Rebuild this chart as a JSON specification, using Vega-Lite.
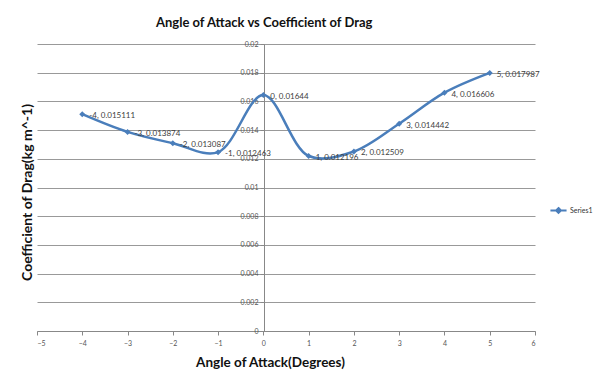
{
  "$schema": "https://vega.github.io/schema/vega-lite/v6.json",
  "width": 498,
  "height": 287,
  "autosize": "none",
  "padding": {"left": 37, "top": 44, "right": 68, "bottom": 50},
  "background": "white",
  "config": {"view": {"stroke": null}, "font": "Lato"},
  "title": {"text": "Angle of Attack vs Coefficient of Drag", "font": "Lato", "fontSize": 13, "fontWeight": "bold", "color": "#111", "anchor": "start", "dx": 136, "offset": 10},
  "data": {"values": [
    {"x": -4, "y": 0.015111, "label": "-4, 0.015111", "s": "Series1"},
    {"x": -3, "y": 0.013874, "label": "-3, 0.013874", "s": "Series1"},
    {"x": -2, "y": 0.013087, "label": "-2, 0.013087", "s": "Series1"},
    {"x": -1, "y": 0.012463, "label": "-1, 0.012463", "s": "Series1"},
    {"x": 0, "y": 0.01644, "label": "0, 0.01644", "s": "Series1"},
    {"x": 1, "y": 0.012196, "label": "1, 0.012196", "s": "Series1"},
    {"x": 2, "y": 0.012509, "label": "2, 0.012509", "s": "Series1"},
    {"x": 3, "y": 0.014442, "label": "3, 0.014442", "s": "Series1"},
    {"x": 4, "y": 0.016606, "label": "4, 0.016606", "s": "Series1"},
    {"x": 5, "y": 0.017987, "label": "5, 0.017987", "s": "Series1"}
  ]},
  "encoding": {
    "x": {"field": "x", "type": "quantitative", "scale": {"domain": [-5, 6], "nice": false, "zero": false},
      "axis": {"values": [-5,-4,-3,-2,-1,0,1,2,3,4,5,6], "grid": false, "domainColor": "#888", "tickColor": "#888", "tickSize": 4, "labelFontSize": 7, "labelColor": "#555", "labelPadding": 4,
        "title": "Angle of Attack(Degrees)", "titleFontSize": 13.5, "titleFont": "Lato", "titleFontWeight": "bold", "titleColor": "#111", "titleX": 233, "titlePadding": 9}},
    "y": {"field": "y", "type": "quantitative", "scale": {"domain": [0, 0.02], "nice": false},
      "axis": {"values": [0,0.002,0.004,0.006,0.008,0.01,0.012,0.014,0.016,0.018,0.02], "format": "~g", "offset": -227, "grid": true, "gridColor": "#999", "domainColor": "#888", "tickColor": "#888", "tickSize": 4, "labelFontSize": 7, "labelColor": "#555", "labelPadding": 2,
        "title": "Coefficient of Drag(kg m^-1)", "titleFontSize": 14, "titleFont": "Lato", "titleFontWeight": "bold", "titleColor": "#111", "titleX": -237, "titleY": 148, "titleAngle": -90, "titleAlign": "center", "titleBaseline": "middle"}}
  },
  "layer": [
    {"mark": {"type": "line", "interpolate": "catmull-rom", "strokeWidth": 2.5, "color": "#4A7EBB"},
     "encoding": {"color": {"field": "s", "type": "nominal", "scale": {"range": ["#4A7EBB"]},
       "legend": {"title": null, "orient": "none", "legendX": 512, "legendY": 157, "symbolType": "M-1,0L1,0M0,-0.3L0.3,0L0,0.3L-0.3,0Z", "symbolSize": 260, "symbolStrokeWidth": 2, "symbolFillColor": "#4A7EBB", "labelFontSize": 7, "labelColor": "#333", "labelOffset": 2}}}},
    {"mark": {"type": "point", "shape": "diamond", "filled": true, "size": 36, "color": "#4A7EBB", "opacity": 1}},
    {"mark": {"type": "text", "align": "left", "baseline": "middle", "dx": 7, "dy": 2, "fontSize": 8, "color": "#404040"},
     "encoding": {"text": {"field": "label"}}}
  ]
}
